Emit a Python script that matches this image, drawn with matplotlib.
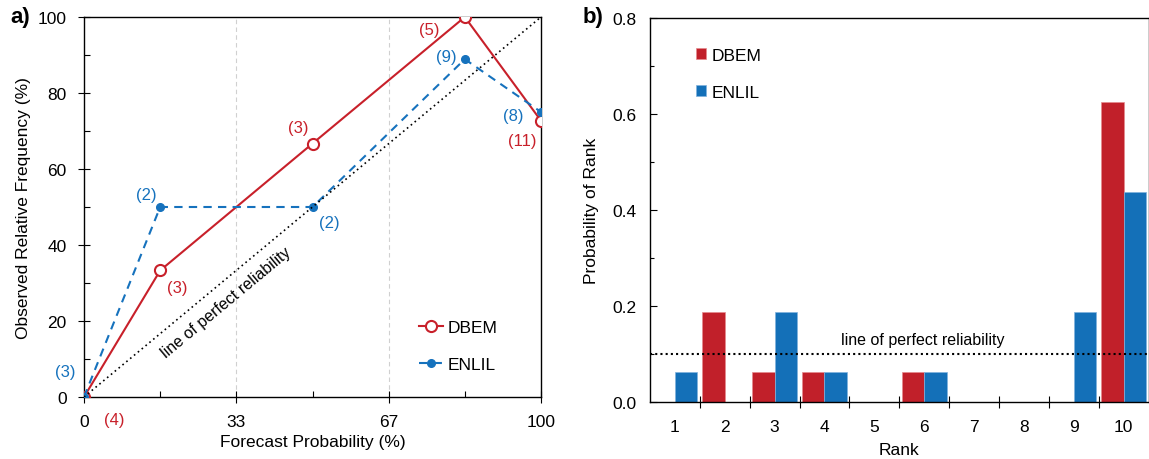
import matplotlib
matplotlib.use("Agg")
import matplotlib.pyplot as plt
import numpy as np

plt.rcParams['font.family'] = ['Liberation Sans', 'DejaVu Sans']

RED = '#c8202a'
BLUE = '#1672bd'

# ---- panel a data ----
forecast_prob = [0, 16.67, 50, 83.33, 100]
dbem_freq = [0, 33.3, 66.7, 100, 72.7]
enlil_freq = [0, 50, 50, 88.9, 75]
dbem_counts = ['(4)', '(3)', '(3)', '(5)', '(11)']
enlil_counts = ['(3)', '(2)', '(2)', '(9)', '(8)']
dbem_count_pos = [(6.6, -5.8), (20.4, 28.7), (46.8, 70.8), (75.5, 96.8), (96.0, 67.6)]
enlil_count_pos = [(-4.2, 6.8), (13.6, 53.4), (53.6, 45.8), (79.2, 89.7), (93.9, 74.0)]
xticks_a = [0, 33.33, 66.67, 100]
xticklabels_a = ['0', '33', '67', '100']

# ---- panel b data ----
ranks = np.arange(1, 11)
dbem_rank = [0, 0.1875, 0.0625, 0.0625, 0, 0.0625, 0, 0, 0, 0.625]
enlil_rank = [0.0625, 0, 0.1875, 0.0625, 0, 0.0625, 0, 0, 0.1875, 0.4375]

fig = plt.figure(figsize=(11.49, 4.6), dpi=100)
W, H = 1149, 460
axa = fig.add_axes([84 / W, (H - 398) / H, (541 - 84) / W, (398 - 18) / H])
axb = fig.add_axes([650 / W, (H - 403) / H, (1148.5 - 650) / W, (403 - 19) / H])

FS = 12.5

# ---------- panel a ----------
for gx in [33.33, 66.67]:
    axa.axvline(gx, color='#d0d0d0', lw=0.8, ls=(0, (4, 3)), zorder=0)
axa.plot(forecast_prob, dbem_freq, color=RED, lw=1.5, marker='o', ms=8,
         mfc='white', mec=RED, mew=1.5, label='DBEM', zorder=3)
axa.plot(forecast_prob, enlil_freq, color=BLUE, lw=1.5, ls=(0, (4, 3)), marker='o',
         ms=5.5, mfc=BLUE, mec=BLUE, label='ENLIL', zorder=4)
axa.plot([0, 100], [0, 100], color='black', lw=1.2, ls=(0, (1, 2)), zorder=5)
axa.text(31, 25, 'line of perfect reliability', rotation=39.7, ha='center', va='center',
         fontsize=11.5, rotation_mode='anchor')
for (x, y), t in zip(dbem_count_pos, dbem_counts):
    axa.text(x, y, t, color=RED, fontsize=FS - 0.5, ha='center', va='center', clip_on=False)
for (x, y), t in zip(enlil_count_pos, enlil_counts):
    axa.text(x, y, t, color=BLUE, fontsize=FS - 0.5, ha='center', va='center', clip_on=False)

axa.set_xlim(0, 100)
axa.set_ylim(0, 100)
axa.set_xticks(xticks_a)
axa.set_xticklabels(xticklabels_a)
axa.set_xticks([16.67, 50, 83.33], minor=True)
axa.set_yticks(np.arange(0, 101, 20))
axa.set_yticks(np.arange(10, 100, 20), minor=True)
axa.tick_params(axis='x', which='major', direction='inout', length=8, width=0.8, pad=8, labelsize=FS)
axa.tick_params(axis='x', which='minor', direction='in', length=4, width=0.8)
axa.tick_params(axis='y', which='major', direction='inout', length=9, width=0.8, pad=8, labelsize=FS)
axa.tick_params(axis='y', which='minor', direction='in', length=4, width=0.8)
for s in axa.spines.values():
    s.set_linewidth(1.0)
axa.set_xlabel('Forecast Probability (%)', fontsize=FS, labelpad=4)
axa.set_ylabel('Observed Relative Frequency (%)', fontsize=FS, labelpad=5)
axa.legend(loc='lower right', bbox_to_anchor=(0.94, 0.025), frameon=False, fontsize=FS,
           handlelength=1.35, handletextpad=0.3, labelspacing=1.25)
fig.text(10 / W, 1 - 18 / H, 'a)', fontsize=16, fontweight='bold', ha='left', va='center')

# ---------- panel b ----------
bw = 0.45
axb.bar(ranks - bw / 2, dbem_rank, width=bw, color='#c1202a', edgecolor='#e58a8e',
        linewidth=0.5, label='DBEM', zorder=2)
axb.bar(ranks + bw / 2, enlil_rank, width=bw, color='#1470b8', edgecolor='#7fb2dd',
        linewidth=0.5, label='ENLIL', zorder=2)
axb.axhline(0.1, color='black', lw=1.5, ls=(0, (1, 1.5)), zorder=3)
axb.text(5.98, 0.131, 'line of perfect reliability', ha='center', va='center', fontsize=11.5)
axb.set_xlim(0.5, 10.5)
axb.set_ylim(0, 0.8)
axb.set_xticks(ranks)
axb.set_xticklabels([str(r) for r in ranks])
axb.set_xticks(np.arange(1.5, 10.5, 1), minor=True)
axb.set_yticks(np.arange(0, 0.81, 0.2))
axb.set_yticklabels(['0.0', '0.2', '0.4', '0.6', '0.8'])
axb.set_yticks(np.arange(0.1, 0.8, 0.2), minor=True)
axb.tick_params(axis='x', which='major', length=0, pad=12, labelsize=FS)
axb.tick_params(axis='x', which='minor', direction='inout', length=9, width=0.8)
axb.tick_params(axis='y', which='major', direction='in', length=5, width=0.8, pad=10, labelsize=FS)
axb.tick_params(axis='y', which='minor', direction='in', length=3, width=0.8)
for s in axb.spines.values():
    s.set_linewidth(1.0)
axb.set_xlabel('Rank', fontsize=FS, labelpad=6)
axb.set_ylabel('Probability of Rank', fontsize=FS, labelpad=9)
axb.legend(loc='upper left', bbox_to_anchor=(0.06, 0.963), frameon=False, fontsize=FS,
           handlelength=0.6, handleheight=0.55, handletextpad=0.35, labelspacing=1.25)
fig.text(583 / W, 1 - 18 / H, 'b)', fontsize=16, fontweight='bold', ha='left', va='center')

fig.savefig('out.png', dpi=100)
